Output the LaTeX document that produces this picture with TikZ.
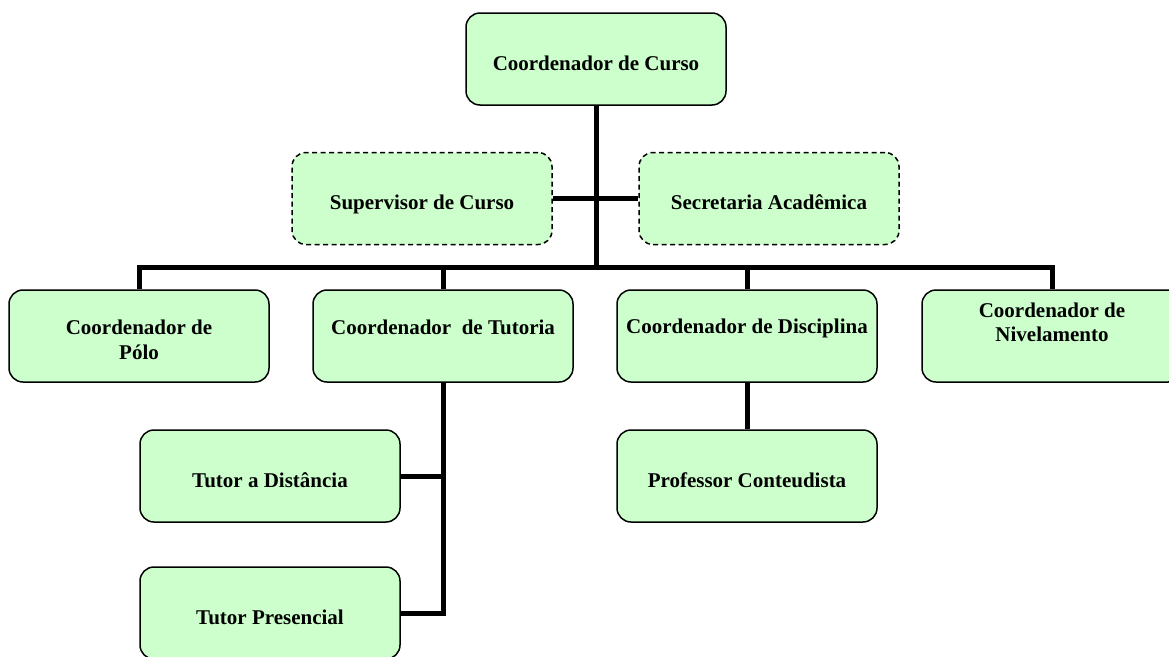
\documentclass[tikz,border=0pt]{standalone}
\usepackage{fontspec}
\setmainfont{Liberation Serif}
\usepackage{xcolor}
\usepackage{tikz}
\usetikzlibrary{positioning}
\definecolor{boxgreen}{HTML}{CCFFCC}

\begin{document}
\begin{tikzpicture}[x=1pt, y=-1pt,
		box/.style={draw=black, line width=1.5pt, fill=boxgreen, rounded corners=14pt, minimum width=260pt, minimum height=92pt, align=center, text height=22pt, text depth=0pt, font=\bfseries\fontsize{21}{25}\selectfont},
		dbox/.style={box, dash pattern=on 5pt off 3.5pt},
		lbl/.style={align=center, inner sep=0pt, font=\bfseries\fontsize{21}{24}\selectfont},
		link/.style={line width=5pt, line join=miter}]
		\useasboundingbox (0,0) rectangle (1169,656);
		
		\node[box] (curso) at (596,59) {Coordenador de Curso};
		\node[dbox] (sup) at (422,198.5) {Supervisor de Curso};
		\node[dbox] (sec) at (769,198.5) {Secretaria Acadêmica};
		\node[box, text height=47pt] (polo) at (139,336) {Coordenador de\\Pólo};
		\node[box] (tut) at (443,336) {};
		\node[box] (disc) at (747,336) {};
		\node[box] (niv) at (1052,336) {};
		\node[box] (tdist) at (270,476) {Tutor a Distância};
		\node[box] (tpres) at (270,613) {Tutor Presencial};
		\node[box] (prof) at (747,476) {Professor Conteudista};
		
		\node[lbl] (tuttxt) at ([yshift=-38pt]tut.north) {Coordenador\ \ de Tutoria};
		\node[lbl] (disctxt) at ([yshift=-39pt]disc.north) {Coordenador de Disciplina};
		\node[lbl] (nivtxt) at ([yshift=-33pt]niv.north) {Coordenador de\\Nivelamento};
		
		\coordinate (j0) at (596,267);
		
		\draw[link] (curso.south) -- (j0);
		\draw[link] (sup.east) -- (sec.west);
		\draw[link] (polo.north) |- (j0) -| (niv.north);
		\draw[link] (tut.north) -- (tut.north |- j0);
		\draw[link] (disc.north) -- (disc.north |- j0);
		\draw[link] (tut.south) |- (tpres.east);
		\draw[link] (tdist.east) -| (tut.south);
		\draw[link] (disc.south) -- (prof.north);
	\end{tikzpicture}
\end{document}
